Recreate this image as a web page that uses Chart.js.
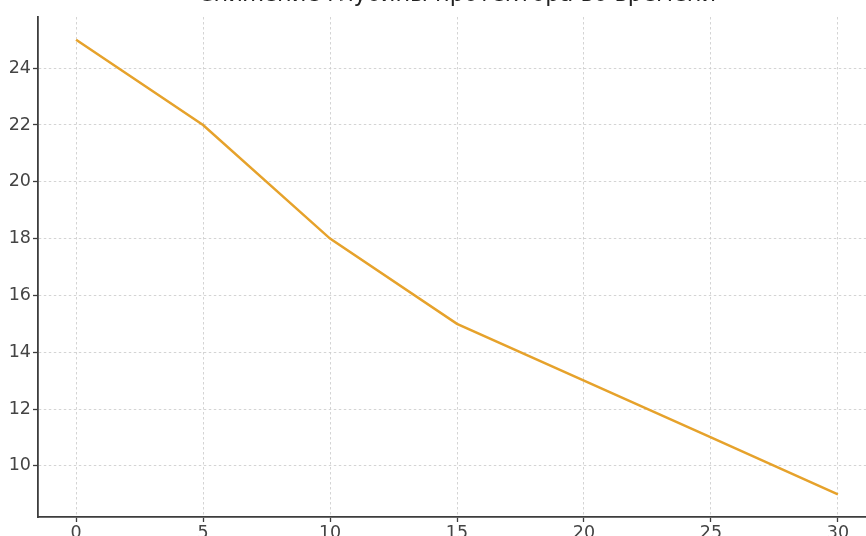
<!DOCTYPE html>
<html>
<head>
<meta charset="utf-8">
<script src="https://cdn.jsdelivr.net/npm/chart.js"></script>
<style>
  html, body { margin: 0; padding: 0; background: #fff; overflow: hidden; width: 866px; height: 536px; }
  #wrap { position: absolute; left: 0; top: -20px; width: 876px; height: 580px; }
</style>
</head>
<body>
<div id="wrap"><canvas id="chartCanvas"></canvas></div>
<script>
// Data
const timePoints = [0, 5, 10, 15, 20, 25, 30];
const depthValues = [25, 22, 18, 15, 13, 11, 9];
const chartTitle = 'Снижение глубины протектора во времени';

const axisFont = { family: 'DejaVu Sans', size: 17.5 };
const gridColor = '#cfcfcf';
const spineColor = '#3d3d3d';

const ctx = document.getElementById('chartCanvas').getContext('2d');

new Chart(ctx, {
  type: 'line',
  data: {
    datasets: [
      {
        data: timePoints.map((t, i) => ({ x: t, y: depthValues[i] })),
        borderColor: '#e6a22b',
        borderWidth: 2.5,
        pointRadius: 0,
        tension: 0,
        fill: false
      }
    ]
  },
  options: {
    responsive: true,
    maintainAspectRatio: false,
    animation: false,
    layout: { padding: 0 },
    plugins: {
      legend: { display: false },
      tooltip: { enabled: false },
      title: {
        display: true,
        fullSize: false, // centre over the plot area, not the whole canvas
        text: chartTitle,
        color: '#222',
        font: { family: 'DejaVu Sans', size: 22.5, weight: 'normal' },
        padding: { top: 1.6, bottom: 8.4 }
      }
    },
    scales: {
      x: {
        type: 'linear',
        min: -1.5,
        max: 31.5,
        afterFit: (scale) => { scale.height = 43; },
        ticks: {
          stepSize: 5,
          includeBounds: false,
          color: '#444',
          font: axisFont,
          padding: 1
        },
        grid: {
          color: gridColor,
          lineWidth: 0.9,
          tickColor: spineColor,
          tickLength: 5,
          tickWidth: 1.3
        },
        border: { display: true, color: spineColor, width: 1.8, dash: [2.5, 2.5] }
      },
      y: {
        min: 8.2,
        max: 25.8,
        afterFit: (scale) => { scale.width = 38; },
        ticks: {
          stepSize: 2,
          includeBounds: false,
          color: '#444',
          font: axisFont,
          padding: 2
        },
        grid: {
          color: gridColor,
          lineWidth: 0.9,
          tickColor: spineColor,
          tickLength: 5,
          tickWidth: 1.3
        },
        border: { display: true, color: spineColor, width: 1.8, dash: [2.5, 2.5] }
      }
    }
  }
});
</script>
</body>
</html>
